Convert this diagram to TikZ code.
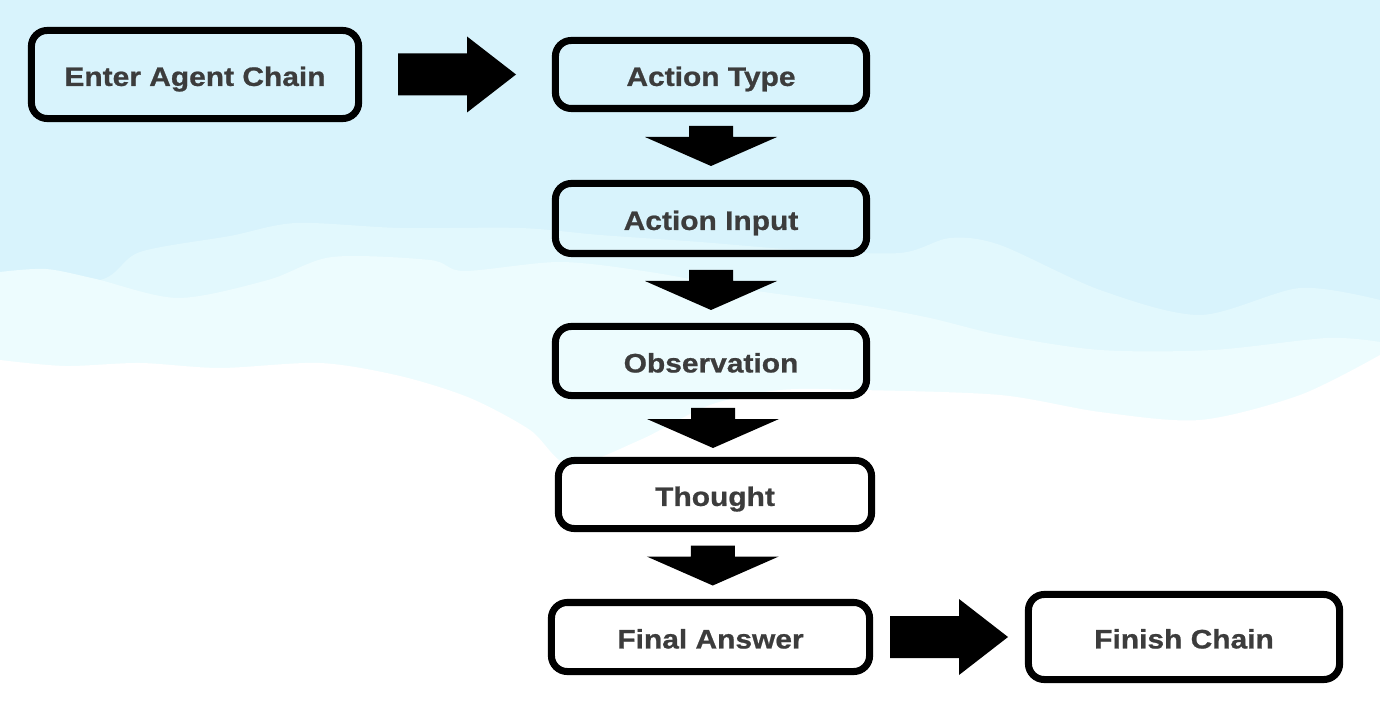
\documentclass[tikz,border=0pt]{standalone}
\usepackage{fontspec}
\setmainfont{Liberation Sans}[FakeStretch=1.12, FakeBold=0.8]
\usetikzlibrary{calc,positioning}
\definecolor{skyblue}{RGB}{216,243,252}
\definecolor{cloudfar}{RGB}{226,248,253}
\definecolor{cloudnear}{RGB}{237,252,254}
\definecolor{labelgray}{RGB}{60,60,60}
\tikzset{
	stepbox/.style={draw=black, line width=2pt, rounded corners=4.5pt, inner sep=0pt,
		minimum width=3.11cm, minimum height=0.69cm, text=labelgray,
		text height=7pt, text depth=0.5pt,
		font=\fontsize{7.6}{8.5}\selectfont\bfseries}
}
\def\blockdown(#1)(#2){\coordinate (m) at ($(#1.south)!0.5!(#2.north)$);
	\fill[black] ($(m)+(-22,-20)$) -- ($(m)+(22,-20)$) -- ($(m)+(22,-9)$) -- ($(m)+(66,-9)$) -- ($(m)+(0,20)$) -- ($(m)+(-66,-9)$) -- ($(m)+(-22,-9)$) -- cycle;}
\def\blockright(#1)(#2){\coordinate (m) at ($(#1.east)!0.5!(#2.west)$);
	\fill[black] ($(m)+(-59,-21)$) -- ($(m)+(10,-21)$) -- ($(m)+(10,-38)$) -- ($(m)+(59,0)$) -- ($(m)+(10,38)$) -- ($(m)+(10,21)$) -- ($(m)+(-59,21)$) -- cycle;}

\begin{document}
\begin{tikzpicture}[x=0.01cm, y=-0.01cm]
	%%%%% BACKGROUND %%%%%
	\useasboundingbox (0,0) rectangle (1380,710);
	\fill[skyblue] (0,0) rectangle (1380,710);
	
	\fill[cloudfar] (0,285) plot[smooth] coordinates {(0,285) (100,280) (140,252) (230,236) (296,223) (400,228) (520,228) (600,235) (700,242) (800,250) (900,253) (950,238) (1000,245) (1100,290) (1200,315) (1300,288) (1380,300)} -- (1380,710) -- (0,710) -- cycle;
	\fill[cloudnear] (0,272) plot[smooth] coordinates {(0,272) (46,269) (96,279) (178,298) (268,280) (332,257) (430,260) (464,271) (560,262) (650,272) (750,290) (860,305) (930,318) (1000,335) (1100,350) (1213,350) (1327,338) (1380,342)} -- (1380,710) -- (0,710) -- cycle;
	\fill[white] (0,360) plot[smooth] coordinates {(0,360) (65,366) (140,363) (220,368) (320,363) (400,376) (470,398) (530,430) (570,465) (640,440) (710,405) (780,390) (860,390) (1000,395) (1100,412) (1200,420) (1300,395) (1380,355)} -- (1380,710) -- (0,710) -- cycle;
	
	%%%%% BOXES %%%%%
	\node[stepbox, minimum width=3.27cm, minimum height=0.88cm] (enter) at (195,74.5) {Enter Agent Chain};
	\node[stepbox, minimum height=0.68cm] (type) at (711,74.5) {Action Type};
	\node[stepbox, minimum height=0.70cm] (input) at (711,218.5) {Action Input};
	\node[stepbox] (observe) at (711,361) {Observation};
	\node[stepbox, minimum width=3.13cm, minimum height=0.68cm] (thought) at (715,494.5) {Thought};
	\node[stepbox, minimum width=3.18cm] (final) at (710.5,637) {Final Answer};
	\node[stepbox, minimum height=0.85cm] (finish) at (1184,637) {Finish Chain};
	
	%%%%% ARROWS %%%%%
	\blockright(enter)(type)
	\blockdown(type)(input)
	\blockdown(input)(observe)
	\blockdown(observe)(thought)
	\blockdown(thought)(final)
	\blockright(final)(finish)
\end{tikzpicture}
\end{document}
